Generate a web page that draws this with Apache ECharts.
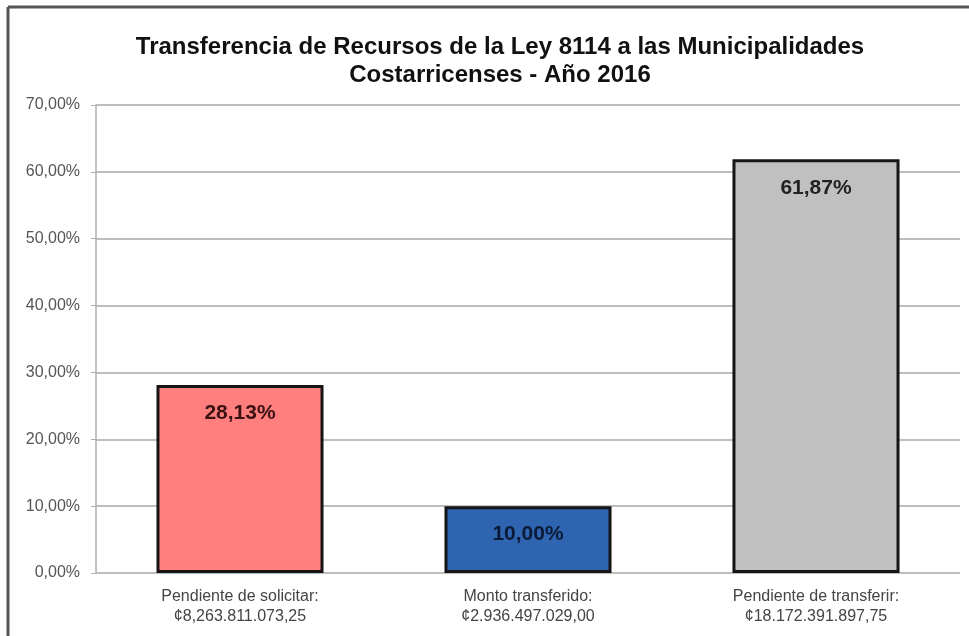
<!DOCTYPE html>
<html>
<head>
<meta charset="utf-8">
<script src="https://cdn.jsdelivr.net/npm/echarts@6/dist/echarts.min.js"></script>
<style>html,body{margin:0;padding:0;background:#fff;}#c{width:969px;height:636px;}</style>
</head>
<body>
<div id="c"></div>
<script>
var titleText = 'Transferencia de Recursos de la Ley 8114 a las Municipalidades\nCostarricenses - Año 2016';
var categories = ['Pendiente de solicitar:\n¢8,263.811.073,25', 'Monto transferido:\n¢2.936.497.029,00', 'Pendiente de transferir:\n¢18.172.391.897,75'];
var values = [28.13, 10.00, 61.87];
var barColors = ['#FF7F7F', '#2E64B0', '#C0C0C0'];
var labelColors = ['#3a1212', '#0b1a36', '#222222'];
var yTicks = [0, 10, 20, 30, 40, 50, 60, 70];

function pct(v){ return v.toFixed(2).replace('.', ',') + '%'; }

var chart = echarts.init(document.getElementById('c'), null, {renderer: 'canvas'});
chart.setOption({
  animation: false,
  backgroundColor: '#fff',
  title: {
    text: titleText,
    left: 495, textAlign: 'center', top: 28,
    textStyle: {fontFamily: 'Liberation Sans, Arial, sans-serif', fontWeight: 'bold', fontSize: 24, color: '#111', lineHeight: 28}
  },
  graphic: [
    {type: 'line', shape: {x1: 8, y1: 7, x2: 969, y2: 7}, style: {stroke: '#555', lineWidth: 3}},
    {type: 'line', shape: {x1: 8, y1: 7, x2: 8, y2: 636}, style: {stroke: '#555', lineWidth: 3}}
  ],
  grid: {left: 96, right: 9, top: 105, bottom: 63},
  xAxis: {
    type: 'category',
    data: categories,
    axisLine: {show: false},
    axisTick: {show: false},
    axisLabel: {fontFamily: 'Liberation Sans, Arial, sans-serif', fontSize: 16, color: '#444', lineHeight: 20, margin: 14}
  },
  yAxis: {
    type: 'value', min: yTicks[0], max: yTicks[yTicks.length - 1], interval: 10,
    axisLine: {show: true, lineStyle: {color: '#b0b0b0', width: 1.5}},
    axisTick: {show: true, length: 5, lineStyle: {color: '#b0b0b0'}},
    splitLine: {lineStyle: {color: '#a8a8a8', width: 1.5}},
    axisLabel: {formatter: function(v){ return pct(v); }, fontFamily: 'Liberation Sans, Arial, sans-serif', fontSize: 16, color: '#555', margin: 16}
  },
  series: [{
    type: 'bar',
    barWidth: '58%',
    data: values.map(function(v, i){
      return {
        value: v,
        itemStyle: {color: barColors[i], borderColor: '#151515', borderWidth: 3},
        label: {color: labelColors[i]}
      };
    }),
    label: {
      show: true, position: 'insideTop', distance: 18,
      formatter: function(p){ return pct(p.value); },
      fontFamily: 'Liberation Sans, Arial, sans-serif', fontWeight: 'bold', fontSize: 21
    }
  }]
});
</script>
</body>
</html>
